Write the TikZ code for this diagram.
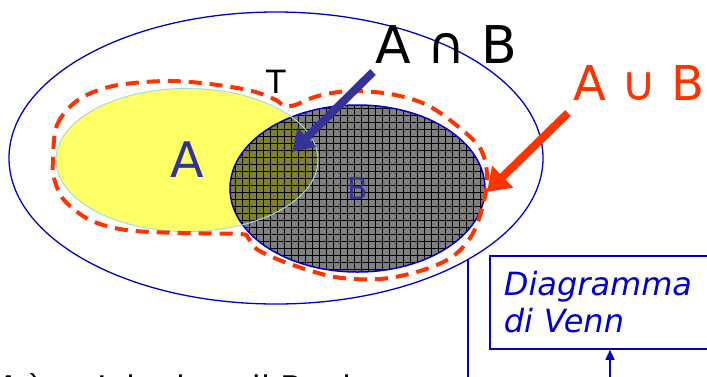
\documentclass[tikz,border=0pt]{standalone}
\usepackage{fontspec}
\setmainfont{DejaVu Sans}[ItalicFont={DejaVu Sans Oblique}]
\usepackage{tikz}
\usetikzlibrary{arrows.meta,shapes.geometric}
\definecolor{vblue}{HTML}{0000CC}
\definecolor{vpurple}{HTML}{333399}
\definecolor{vred}{HTML}{FF3300}
\definecolor{vyellow}{HTML}{FFFF66}
\definecolor{volive}{HTML}{808033}
\definecolor{vedge}{HTML}{A8D8E0}
\tikzset{
  universe/.style={ellipse, draw=vblue, line width=1.3pt, minimum width=534pt, minimum height=292pt, inner sep=0pt},
  setA/.style={ellipse, fill=vyellow, minimum width=262pt, minimum height=143pt, inner sep=0pt, text=vpurple, font=\fontsize{49}{49}\selectfont},
  edgeA/.style={ellipse, draw=vedge, line width=1pt, minimum width=262pt, minimum height=143pt, inner sep=0pt},
  setB/.style={ellipse, draw=vblue, line width=1.5pt, fill=gray, minimum width=255pt, minimum height=167pt, inner sep=0pt, text=vpurple, font=\fontsize{30}{30}\selectfont,
    path picture={
      \fill[volive] (A.center) ellipse [x radius=131pt, y radius=71.5pt];
      \draw[gridln] (path picture bounding box.south west) grid (path picture bounding box.north east);
    }},
  gridln/.style={draw=black, line width=0.6pt, step=7pt},
  unionln/.style={draw=vred, line width=4pt, dash pattern=on 13pt off 8pt},
  interarr/.style={draw=vpurple, line width=8pt, -{Triangle[length=21pt,width=25pt]}},
  unionarr/.style={draw=vred, line width=8pt, -{Triangle[length=22pt,width=29pt]}},
  vline/.style={draw=vblue, line width=1.5pt},
  vennbox/.style={draw=vblue, line width=1.8pt, text=vblue, font=\fontsize{32}{37}\selectfont\itshape, align=left, text width=212pt, inner xsep=14pt, minimum height=93pt},
  lbl/.style={inner sep=0pt}
}
\begin{document}
\begin{tikzpicture}[x=1pt, y=-1pt]
  \useasboundingbox (0,0) rectangle (707,376);
  \node[universe] (U) at (276,158) {};
  \node[setA] (A) at (187,160) {A};
  \node[setB] (B) at (357.5,188.5) {B};
  \node[edgeA] (Aedge) at (A) {};
  \draw[unionln] plot[smooth cycle, tension=0.55] coordinates {
    (53,160) (57,125) (78,100) (113,86) (165,81) (210,84) (252,91) (276,100)
    (284,106) (295,105) (318,96) (350,91) (390,94) (425,104) (455,124) (480,148)
    (487,175) (483,205) (472,235) (452,257) (420,271) (380,279) (335,277) (290,264)
    (258,250) (248,238) (240,234) (180,233) (126,230) (90,220) (64,200) (54,178)};
  \node[lbl, font=\fontsize{32}{32}\selectfont] (T) at (276,81.5) {T};
  \node[lbl, anchor=base west, font=\fontsize{52}{52}\selectfont] (cap) at (375,63) {A ∩ B};
  \node[lbl, anchor=base west, text=vred, font=\fontsize{48}{48}\selectfont] (cup) at (573,100) {A ∪ B};
  \coordinate (capfrom) at (373,72);
  \coordinate (capto) at (292,152);
  \coordinate (cupfrom) at (568,113);
  \coordinate (cupto) at (487,192);
  \draw[interarr] (capfrom) -- (capto);
  \draw[unionarr] (cupfrom) -- (cupto);
  \coordinate (ubot) at (465,380);
  \draw[vline] (U.-28.6) -- (U.-28.6 |- ubot);
  \node[vennbox, anchor=north west] (dv) at (489,255) {Diagramma\\di Venn};
  \coordinate (dvin) at (610,380);
  \draw[vline, -{Triangle[length=10pt,width=9pt]}] (dvin) -- (dvin |- dv.south);
  \node[lbl, anchor=base west, font=\fontsize{32.5}{32.5}\selectfont] (boole) at (-13.4,399.5) {M è un'algebra di Boole};
\end{tikzpicture}
\end{document}
